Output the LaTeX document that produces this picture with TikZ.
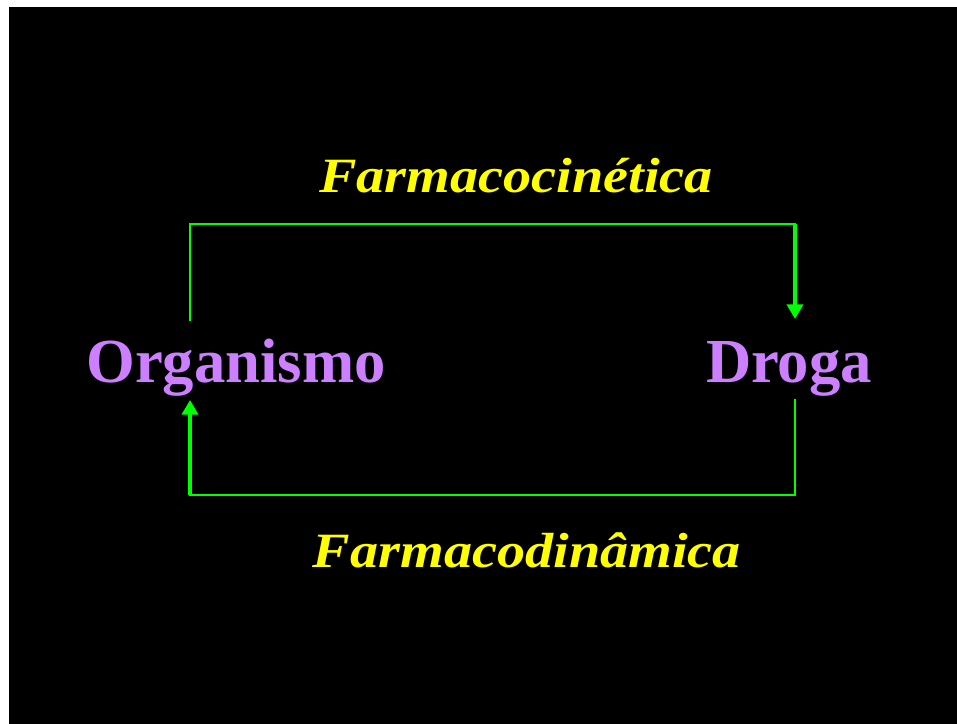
\documentclass[tikz,border=0pt]{standalone}
\usepackage{fontspec}
\setmainfont{Liberation Serif}
\usetikzlibrary{arrows.meta}
\definecolor{slidebg}{RGB}{0,0,0}
\definecolor{termviolet}{RGB}{204,128,255}
\definecolor{labelyellow}{RGB}{255,255,0}
\definecolor{linkgreen}{RGB}{0,255,0}
\newcommand{\widelabel}[1]{\scalebox{1.14}[1]{#1}}
\tikzset{
  term/.style={text=termviolet, font=\fontsize{47}{50}\selectfont\bfseries, inner sep=0pt, anchor=base},
  process/.style={text=labelyellow, font=\fontsize{37}{40}\selectfont\bfseries\itshape, inner sep=0pt, anchor=base},
  thinlink/.style={draw=linkgreen, line width=1.6pt, line cap=rect, line join=miter},
  thicklink/.style={draw=linkgreen, line width=3pt, -{Triangle[length=11pt,width=12pt]}},
}
\begin{document}
\begin{tikzpicture}[x=0.75pt,y=-0.75pt]
  \useasboundingbox (0,0) rectangle (957,724);
  \fill[white] (0,0) rectangle (957,724);
  \fill[slidebg] (9,7) rectangle (957,724);

  \node[term] (org) at (236,382) {Organismo};
  \node[term] (drg) at (789,382) {Droga};
  \node[process] (pk) at (516,192) {\widelabel{Farmacocinética}};
  \node[process] (pd) at (527,567) {\widelabel{Farmacodinâmica}};

  % corner points of the two loops
  \coordinate (orgtop) at (190,320);
  \coordinate (tl) at (190,224);
  \coordinate (tr) at (795,224);
  \coordinate (drgtop) at (795,319);
  \coordinate (drgbot) at (795,400);
  \coordinate (br) at (795,495);
  \coordinate (bl) at (190,495);
  \coordinate (orgbot) at (190,400);

  % organism to drug
  \draw[thinlink] (orgtop) -- (tl) -- (tr);
  \draw[thicklink] (tr) -- (drgtop);
  % drug to organism
  \draw[thinlink] (drgbot) -- (br) -- (bl);
  \draw[thicklink] (bl) -- (orgbot);
\end{tikzpicture}
\end{document}
